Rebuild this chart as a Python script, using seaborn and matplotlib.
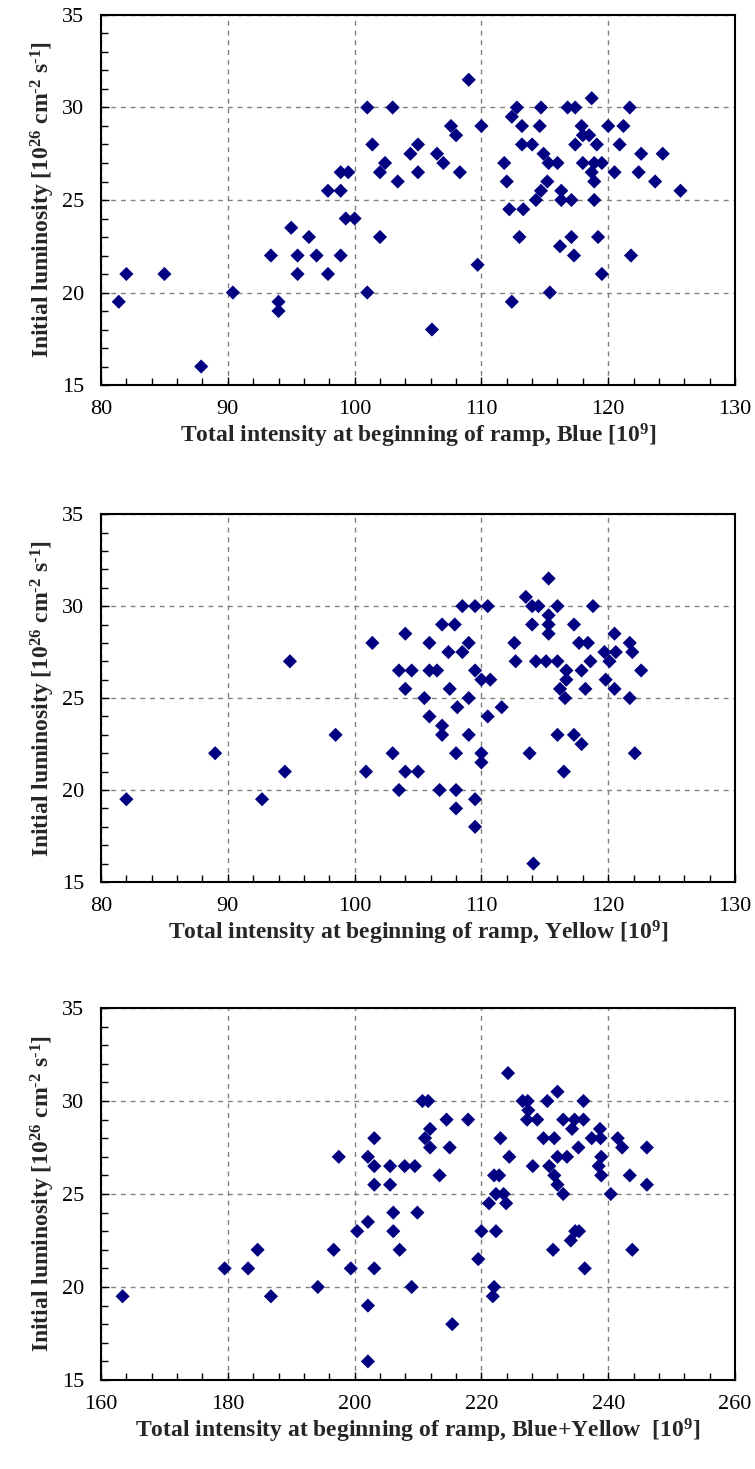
import numpy as np
import pandas as pd
import seaborn as sns
import matplotlib
matplotlib.use("Agg")
import matplotlib.pyplot as plt
from matplotlib.ticker import MultipleLocator

blue_x = [81.4, 82.0, 85.0, 87.9, 90.4, 93.4, 94.0, 94.0, 95.0, 95.5, 95.5, 96.4, 97.0, 97.9, 97.9,
          98.9, 98.9, 98.9, 99.5, 99.3, 100.0, 101.0, 101.0, 101.4, 102.0, 102.4, 102.0, 103.0, 103.4,
          104.4, 105.0, 105.0, 106.1, 109.0, 107.6, 108.0, 106.5, 107.0, 108.3, 110.0, 109.7, 112.8,
          112.4, 113.2, 113.2, 114.0, 114.7, 114.6, 111.8, 112.0, 112.2, 113.3, 113.0, 112.4, 115.4,
          114.9, 115.3, 116.0, 115.2, 114.7, 114.3, 116.3, 116.3, 117.1, 116.8, 117.4, 118.7, 117.9,
          118.0, 117.4, 118.5, 119.1, 120.0, 121.2, 120.9, 121.7, 118.0, 118.9, 119.5, 118.7, 118.9,
          120.5, 118.9, 117.1, 116.2, 117.3, 119.2, 119.5, 121.8, 122.6, 124.3, 122.4, 123.7, 125.7]
blue_y = [19.5, 21, 21, 16, 20, 22, 19.5, 19, 23.5, 22, 21, 23, 22, 21, 25.5,
          26.5, 25.5, 22, 26.5, 24, 24, 30, 20, 28, 26.5, 27, 23, 30, 26,
          27.5, 28, 26.5, 18, 31.5, 29, 28.5, 27.5, 27, 26.5, 29, 21.5, 30,
          29.5, 29, 28, 28, 30, 29, 27, 26, 24.5, 24.5, 23, 19.5, 20,
          27.5, 27, 27, 26, 25.5, 25, 25.5, 25, 25, 30, 30, 30.5, 29,
          28.5, 28, 28.5, 28, 29, 29, 28, 30, 27, 27, 27, 26.5, 26,
          26.5, 25, 23, 22.5, 22, 23, 21, 22, 27.5, 27.5, 26.5, 26, 25.5]

yellow_x = [82, 89, 92.7, 94.5, 94.9, 98.5, 100.9, 101.4, 103, 103.5, 104, 105, 104, 103.5, 104.5,
            104, 105.9, 105.9, 105.5, 105.9, 106.5, 106.9, 107.9, 108.5, 109.5, 110.5, 107.4, 108.5,
            109.0, 109.5, 110, 110.7, 107.5, 108.1, 109.0, 106.9, 106.9, 109.0, 110.5, 111.6, 108, 110,
            110, 106.7, 108, 108, 109.5, 109.5, 114.1, 112.6, 112.7, 113.5, 114, 114.5, 116, 115.3, 114,
            115.3, 115.3, 115.3, 114.3, 115.1, 116, 116.7, 116.7, 116.2, 116.6, 117.3, 118.8, 117.7,
            118.4, 118.6, 117.9, 118.2, 120.5, 119.7, 120.6, 120.1, 119.8, 120.5, 121.7, 121.9, 122.6,
            121.7, 113.8, 116, 117.3, 117.9, 116.5, 122.1]
yellow_y = [19.5, 22, 19.5, 21, 27, 23, 21, 28, 22, 20, 21, 21, 28.5, 26.5, 26.5,
            25.5, 28, 26.5, 25, 24, 26.5, 29, 29, 30, 30, 30, 27.5, 27.5,
            28, 26.5, 26, 26, 25.5, 24.5, 25, 23.5, 23, 23, 24, 24.5, 22, 22,
            21.5, 20, 20, 19, 19.5, 18, 16, 28, 27, 30.5, 30, 30, 30, 31.5, 29,
            29.5, 29, 28.5, 27, 27, 27, 26.5, 26, 25.5, 25, 29, 30, 28,
            28, 27, 26.5, 25.5, 28.5, 27.5, 27.5, 27, 26, 25.5, 28, 27.5, 26.5,
            25, 22, 23, 23, 22.5, 21, 22]

total_x = [163.4, 179.5, 183.2, 184.7, 186.8, 194.2, 196.7, 197.5, 199.4, 200.4, 202.1, 202.1, 203.1,
           203.1, 203.1, 203.1, 202.1, 202.1, 205.6, 205.6, 206.1, 206.1, 207.1, 207.9, 209.5, 209.9,
           209.0, 210.7, 211.6, 211.1, 211.9, 211.9, 214.5, 217.9, 215.0, 213.4, 215.4, 220, 222.3,
           219.5, 222, 221.8, 221.2, 222.3, 223.5, 223.9, 222, 222.8, 223, 224.4, 224.2, 226.5, 227.3,
           227.4, 227.2, 228.8, 230.4, 232.0, 236.1, 228.1, 229.8, 231.5, 232, 233.5, 230.7, 231.5,
           232.0, 232.9, 232.9, 234.7, 234.3, 236.1, 235.3, 237.4, 238.7, 238.8, 238.9, 238.5, 238.9,
           241.5, 242.2, 246.1, 240.4, 243.4, 246.1, 234.1, 234.8, 235.4, 231.3, 236.3, 243.8]
total_y = [19.5, 21, 21, 22, 19.5, 20, 22, 27, 21, 23, 23.5, 27, 28,
           26.5, 25.5, 21, 19, 16, 26.5, 25.5, 24, 23, 22, 26.5, 26.5, 24,
           20, 30, 30, 28, 28.5, 27.5, 29, 29, 27.5, 26, 18, 23, 23,
           21.5, 20, 19.5, 24.5, 25, 25, 24.5, 26, 26, 28, 27, 31.5, 30, 30,
           29.5, 29, 29, 30, 30.5, 30, 26.5, 28, 28, 27, 27, 26.5, 26,
           25.5, 25, 29, 29, 28.5, 29, 27.5, 28, 28.5, 28, 27, 26.5, 26,
           28, 27.5, 27.5, 25, 26, 25.5, 22.5, 23, 23, 22, 21, 22]

xlabels = ["Total intensity at beginning of ramp, Blue [10$^{\\mathbf{9}}$]",
           "Total intensity at beginning of ramp, Yellow [10$^{\\mathbf{9}}$]",
           "Total intensity at beginning of ramp, Blue+Yellow  [10$^{\\mathbf{9}}$]"]
ylabel = "Initial luminosity [10$^{\\mathbf{26}}$ cm$^{\\mathbf{\u2010 2}}$ s$^{\\mathbf{\u2010 1}}$]"

sns.set_style("white")
plt.rcParams['font.family'] = ['Liberation Serif', 'DejaVu Serif']
plt.rcParams['mathtext.fontset'] = 'custom'
plt.rcParams['mathtext.rm'] = 'Liberation Serif'
plt.rcParams['mathtext.bf'] = 'Liberation Serif:bold'
plt.rcParams['mathtext.it'] = 'Liberation Serif:italic'

fig = plt.figure(figsize=(7.55, 14.69), dpi=100)
boxes = [(0.1338, 0.7379, 0.8397, 0.2519),
         (0.1338, 0.3996, 0.8397, 0.2504),
         (0.1338, 0.0606, 0.8397, 0.2532)]
datasets = [(blue_x, blue_y, (80, 130), 10, 2),
            (yellow_x, yellow_y, (80, 130), 10, 2),
            (total_x, total_y, (160, 260), 20, 4)]

for box, (xs, ys, xlim, maj, mnr), xl in zip(boxes, datasets, xlabels):
    ax = fig.add_axes(box)
    df = pd.DataFrame({"x": xs, "y": ys})
    sns.scatterplot(data=df, x="x", y="y", ax=ax, marker="D", color="#000080",
                    s=52, edgecolor="none", linewidth=0, zorder=3)
    ax.set_xlim(*xlim)
    ax.set_ylim(15, 35)
    ax.xaxis.set_major_locator(MultipleLocator(maj))
    ax.xaxis.set_minor_locator(MultipleLocator(mnr))
    ax.yaxis.set_major_locator(MultipleLocator(5))
    ax.yaxis.set_minor_locator(MultipleLocator(1))
    ax.tick_params(which='both', direction='in', top=False, right=False,
                   bottom=True, left=True, colors='black', labelsize=16)
    ax.tick_params(axis='x', which='major', length=6, width=1, pad=11)
    ax.tick_params(axis='y', which='major', length=6, width=1, pad=12)
    ax.tick_params(which='minor', length=5, width=1)
    ax.grid(True, which='major', color='#808080', linestyle=(0, (3.5, 3.5)), linewidth=1)
    for sp in ax.spines.values():
        sp.set_color('black')
        sp.set_linewidth(1.5)
        sp.set_visible(True)
    ax.set_xlabel(xl, fontsize=17, fontweight='bold', labelpad=2)
    ax.set_ylabel(ylabel, fontsize=17, fontweight='bold', labelpad=4)

fig.savefig("out.png", dpi=100, facecolor='white')
